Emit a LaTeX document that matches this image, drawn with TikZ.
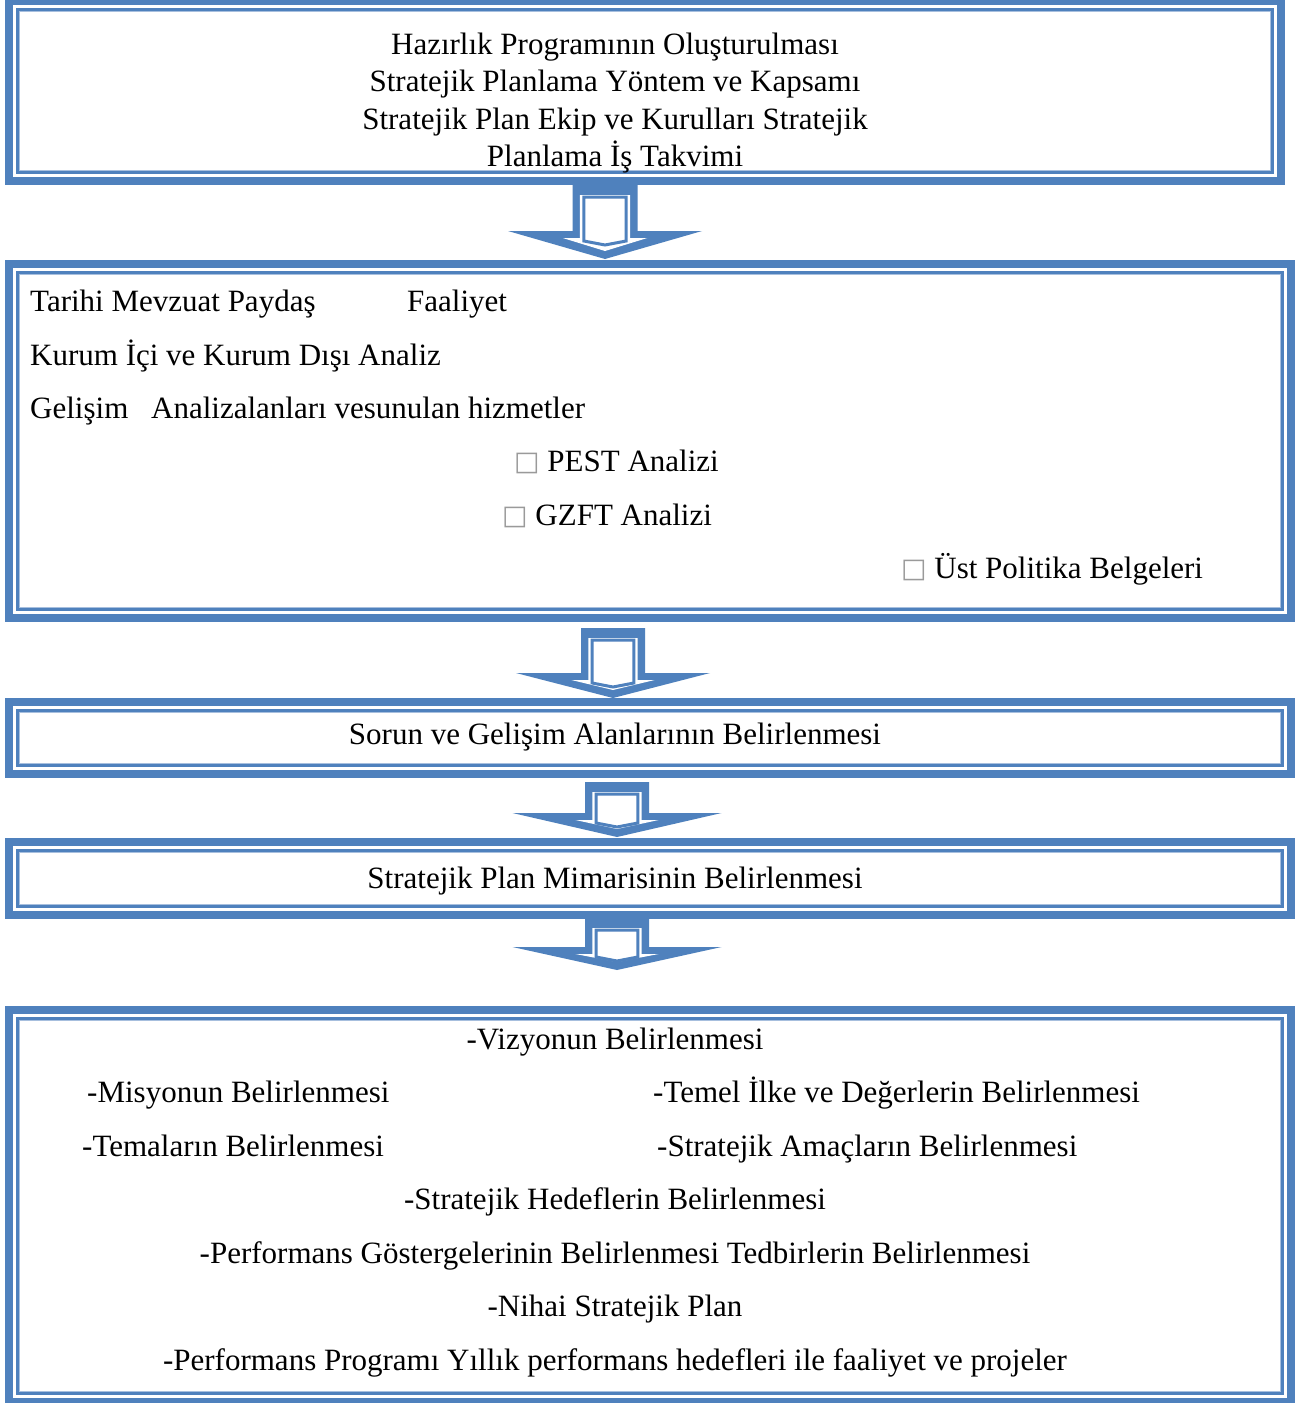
\documentclass[tikz,border=0pt]{standalone}
\usepackage{fontspec}
\setmainfont{Liberation Serif}
\newfontfamily\dvsans{DejaVu Sans}
\definecolor{frameblue}{HTML}{4F81BD}
\definecolor{lightframe}{HTML}{A7BFDE}
\definecolor{glyphgray}{HTML}{9A9A9A}
\newcommand\frameBox[5]{% name x1 y1 x2 y2
  \draw[line width=8pt, frameblue] ({#2+4},{#3+4}) rectangle ({#4-4},{#5-4});
  \draw[line width=3pt, frameblue] ({#2+12.5},{#3+12.5}) rectangle ({#4-12.5},{#5-12.5});
  \draw[line width=1pt, lightframe] ({#2+14.5},{#3+14.5}) rectangle ({#4-14.5},{#5-14.5});
  \coordinate (#1nw) at (#2,#3);
  \coordinate (#1se) at (#4,#5);
}
\newcommand\blockArrow[6]{% cx y0 sw yw ww yt
  \fill[frameblue] ({#1-#3},#2) -- ({#1+#3},#2) -- ({#1+#3},#4) -- ({#1+#5},#4) -- (#1,#6) -- ({#1-#5},#4) -- ({#1-#3},#4) -- cycle;
  \fill[white] ({#1-0.77*#3},{#2+10}) -- ({#1+0.77*#3},{#2+10}) -- ({#1+0.77*#3},{#4+7}) -- ({#1+1.3*#3},{#4+7}) -- (#1,{#6-8}) -- ({#1-1.3*#3},{#4+7}) -- ({#1-0.77*#3},{#4+7}) -- cycle;
  \draw[frameblue, line width=3pt, line join=miter] ({#1-0.65*#3},{#2+12}) -- ({#1+0.65*#3},{#2+12}) -- ({#1+0.65*#3},{#4+10}) -- (#1,{#4+14}) -- ({#1-0.65*#3},{#4+10}) -- cycle;
}
\newcommand\sq{{\dvsans\fontsize{27}{27}\selectfont\raisebox{1pt}{\textcolor{glyphgray}{□}}}}
\tikzset{
  txt/.style={anchor=base, inner sep=0pt, font=\fontsize{31}{37}\selectfont},
  txtl/.style={txt, anchor=base west}
}
\begin{document}
\begin{tikzpicture}[x=1pt,y=-1pt]
\useasboundingbox (0,0) rectangle (1309,1403);
\fill[white] (0,0) rectangle (1309,1403);
% boxes
\frameBox{b1}{5}{-3}{1285}{185}
\frameBox{b2}{5}{260}{1295}{622}
\frameBox{b3}{5}{698}{1295}{778}
\frameBox{b4}{5}{838}{1295}{919}
\frameBox{b5}{5}{1006}{1295}{1406}
% arrows
\blockArrow{605}{185}{32.5}{231}{97}{259}
\blockArrow{613}{628}{32}{673}{97}{698}
\blockArrow{617}{782}{32}{813}{104.5}{837}
\blockArrow{617}{918}{32}{947}{104.5}{970}
% box 1
\node[txt] (t11) at (615,54) {Hazırlık Programının Oluşturulması};
\node[txt] (t12) at (615,91) {Stratejik Planlama Yöntem ve Kapsamı};
\node[txt] (t13) at (615,129) {Stratejik Plan Ekip ve Kurulları Stratejik};
\node[txt] (t14) at (615,166) {Planlama İş Takvimi};
% box 2
\node[txtl] (t21) at (30,311) {Tarihi Mevzuat Paydaş};
\node[txtl] (t21b) at (407,311) {Faaliyet};
\node[txtl] (t22) at (30,365) {Kurum İçi ve Kurum Dışı Analiz};
\node[txtl] (t23) at (30,418) {Gelişim};
\node[txtl] (t23b) at (151,418) {Analizalanları vesunulan hizmetler};
\node[txtl] (t24) at (514,471) {\sq\ PEST Analizi};
\node[txtl] (t25) at (502,525) {\sq\ GZFT Analizi};
\node[txtl] (t26) at (901,578) {\sq\ Üst Politika Belgeleri};
% box 3, 4
\node[txt] (t3) at (615,744) {Sorun ve Gelişim Alanlarının Belirlenmesi};
\node[txt] (t4) at (615,888) {Stratejik Plan Mimarisinin Belirlenmesi};
% box 5
\node[txt] (t51) at (615,1049) {-Vizyonun Belirlenmesi};
\node[txtl] (t52) at (87,1102) {-Misyonun Belirlenmesi};
\node[txtl] (t52b) at (653,1102) {-Temel İlke ve Değerlerin Belirlenmesi};
\node[txtl] (t53) at (82,1156) {-Temaların Belirlenmesi};
\node[txtl] (t53b) at (657,1156) {-Stratejik Amaçların Belirlenmesi};
\node[txt] (t54) at (615,1209) {-Stratejik Hedeflerin Belirlenmesi};
\node[txt] (t55) at (615,1263) {-Performans Göstergelerinin Belirlenmesi Tedbirlerin Belirlenmesi};
\node[txt] (t56) at (615,1316) {-Nihai Stratejik Plan};
\node[txt] (t57) at (615,1370) {-Performans Programı Yıllık performans hedefleri ile faaliyet ve projeler};
\end{tikzpicture}
\end{document}
